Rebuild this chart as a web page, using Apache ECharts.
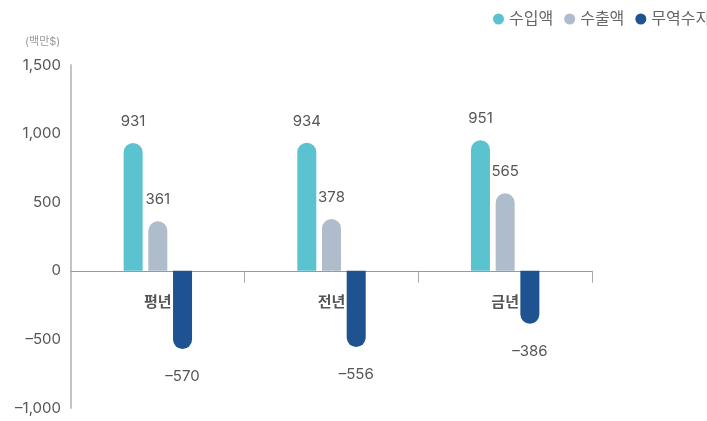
<!DOCTYPE html>
<html><head><meta charset="utf-8">
<script src="https://cdn.jsdelivr.net/npm/echarts@6/dist/echarts.min.js"></script>
<style>html,body{margin:0;padding:0;background:#fff}#c{width:707px;height:421px}</style>
</head><body><div id="c"></div>
<script>
const categories = ['평년', '전년', '금년'];
const imports = [931, 934, 951];
const exports_ = [361, 378, 565];
const balance = [-570, -556, -386];
const seriesNames = ['수입액', '수출액', '무역수지'];
const yTicks = [-1000, -500, 0, 500, 1000, 1500];

const FONT = 'Inter, "Noto Sans CJK KR", sans-serif';
const chart = echarts.init(document.getElementById('c'));
const fmt = v => v.toLocaleString('en-US').replace('-', '–');
const GRID_TOP = 65, GRID_BOTTOM = 13, H = 421;
const plotH = H - GRID_TOP - GRID_BOTTOM;
const yMin = yTicks[0], yMax = yTicks[yTicks.length - 1];
const zeroOffset = plotH * (0 - yMin) / (yMax - yMin);
chart.setOption({
  animation: false,
  textStyle: { fontFamily: FONT },
  legend: {
    left: 488, top: 6, width: 400, orient: 'horizontal',
    icon: 'circle', itemWidth: 11, itemHeight: 11, itemGap: 11,
    textStyle: { fontSize: 16, color: '#666', fontFamily: FONT },
    data: seriesNames
  },
  graphic: [{
    type: 'text', left: 25, top: 36,
    style: { text: '(백만$)', fontSize: 11, fill: '#999', fontFamily: FONT }
  }],
  grid: { left: 71, right: 115, top: GRID_TOP, bottom: GRID_BOTTOM, outerBoundsMode: 'none', containLabel: false },
  xAxis: {
    type: 'category', data: categories,
    position: 'bottom',
    offset: -zeroOffset,
    axisLine: { onZero: false, lineStyle: { color: '#999', width: 1 } },
    axisTick: { show: true, length: 12, lineStyle: { color: '#aaa' },
      interval: function (i) { return i > 0 && i < categories.length; } },
    axisLabel: { margin: 24, fontSize: 15, fontWeight: 'bold', color: '#555', fontFamily: FONT }
  },
  yAxis: {
    type: 'value', min: yMin, max: yMax, interval: 500,
    axisLine: { show: true, lineStyle: { color: '#c4c4c4', width: 2 } },
    axisTick: { show: false },
    splitLine: { show: false },
    axisLabel: { fontSize: 15, color: '#555', margin: 10, padding: [7, 0, 0, 0], formatter: fmt, fontFamily: FONT }
  },
  series: [
    { name: seriesNames[0], type: 'bar', data: imports, barWidth: 19, barGap: '30%',
      itemStyle: { color: '#5bc3d0', borderRadius: [10, 10, 0, 0] },
      label: { show: true, position: 'top', distance: 14, fontSize: 15, color: '#555', formatter: p => fmt(p.value) } },
    { name: seriesNames[1], type: 'bar', data: exports_, barWidth: 19, barGap: '30%',
      itemStyle: { color: '#afbccb', borderRadius: [10, 10, 0, 0] },
      label: { show: true, position: 'top', distance: 14, fontSize: 15, color: '#555', formatter: p => fmt(p.value) } },
    { name: seriesNames[2], type: 'bar', data: balance, barWidth: 19, barGap: '30%',
      itemStyle: { color: '#1f5290', borderRadius: [0, 0, 10, 10] },
      label: { show: true, position: 'bottom', distance: 20, fontSize: 15, color: '#555', formatter: p => fmt(p.value) } }
  ]
});
</script></body></html>
